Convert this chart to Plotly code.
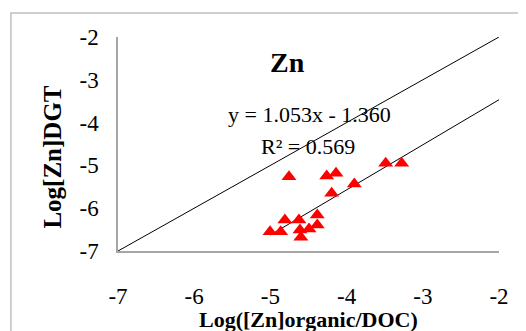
import plotly.graph_objects as go

# Data
x_vals = [-5.005, -4.865, -4.81, -4.756, -4.625, -4.612, -4.60, -4.493, -4.385, -4.385,
          -4.261, -4.139, -4.196, -3.899, -3.487, -3.277]
y_vals = [-6.55, -6.55, -6.276, -5.264, -6.276, -6.51, -6.68, -6.486, -6.159, -6.393,
          -5.248, -5.185, -5.652, -5.435, -4.951, -4.951]
slope = 1.053
intercept = -1.360
r2 = 0.569
ref_line_x = [-7, -2]
trend_x = [-5.0, -2.0]
x_ticks = [-7, -6, -5, -4, -3, -2]
y_ticks = [-7, -6, -5, -4, -3, -2]
x_tick_text = ["-7", "-6", "-5", "-4", "-3", "-2"]
y_tick_text = ["-7", "-6", "-5", "-4", "-3", "-2"]

FONT = "Liberation Serif"

fig = go.Figure()
fig.add_trace(go.Scatter(x=ref_line_x, y=ref_line_x, mode="lines",
                         line=dict(color="black", width=1), showlegend=False, hoverinfo="skip"))
fig.add_trace(go.Scatter(x=trend_x, y=[slope * v + intercept for v in trend_x], mode="lines",
                         line=dict(color="black", width=1), showlegend=False, hoverinfo="skip"))
fig.add_trace(go.Scatter(x=x_vals, y=y_vals, mode="markers",
                         marker=dict(symbol="triangle-up", size=13, color="#ff0000"),
                         showlegend=False))

# page body has an 8px margin, so the figure is sized to the remaining space
fig.update_layout(
    width=518, height=323,
    margin=dict(l=110, r=27, t=29, b=80),
    paper_bgcolor="white", plot_bgcolor="white",
    font=dict(family=FONT, color="black", size=20),
    xaxis=dict(range=[-7, -2], tickvals=x_ticks, ticktext=x_tick_text, showgrid=False,
               zeroline=False, automargin=False,
               showline=True, linecolor="#a6a6a6", linewidth=1.5, ticks="",
               ticklabelstandoff=24, tickfont=dict(size=23, family=FONT)),
    yaxis=dict(range=[-7, -2], tickvals=y_ticks, ticktext=y_tick_text, showgrid=False,
               zeroline=False, automargin=False,
               showline=True, linecolor="#a6a6a6", linewidth=1.5, ticks="",
               ticklabelstandoff=13, tickfont=dict(size=23, family=FONT)),
    annotations=[
        dict(text="<b>Log([Zn]organic/DOC)</b>", x=0.5, y=-0.318, xref="paper", yref="paper",
             yanchor="middle", showarrow=False, font=dict(size=22, family=FONT)),
        dict(text="<b>Log[Zn]DGT</b>", x=-0.2126, y=0.439, xref="paper", yref="paper",
             textangle=-90, showarrow=False, font=dict(size=25, family=FONT)),
        dict(text="<b>Zn</b>", x=0.444, y=0.963, xref="paper", yref="paper",
             showarrow=False, font=dict(size=28, family=FONT)),
        dict(text=f"y = {slope:.3f}x - {abs(intercept):.3f}", x=-4.49, y=-3.80,
             xref="x", yref="y", showarrow=False, font=dict(size=22, family=FONT)),
        dict(text=f"R² = {r2:.3f}", x=-4.51, y=-4.55,
             xref="x", yref="y", showarrow=False, font=dict(size=22, family=FONT)),
    ],
    shapes=[dict(type="rect", xref="paper", yref="paper", x0=-0.281, y0=-0.5, x1=1.2, y1=1.112,
                 line=dict(color="#c0c0c0", width=1.5), layer="below")],
)

fig.write_html("out.html")
